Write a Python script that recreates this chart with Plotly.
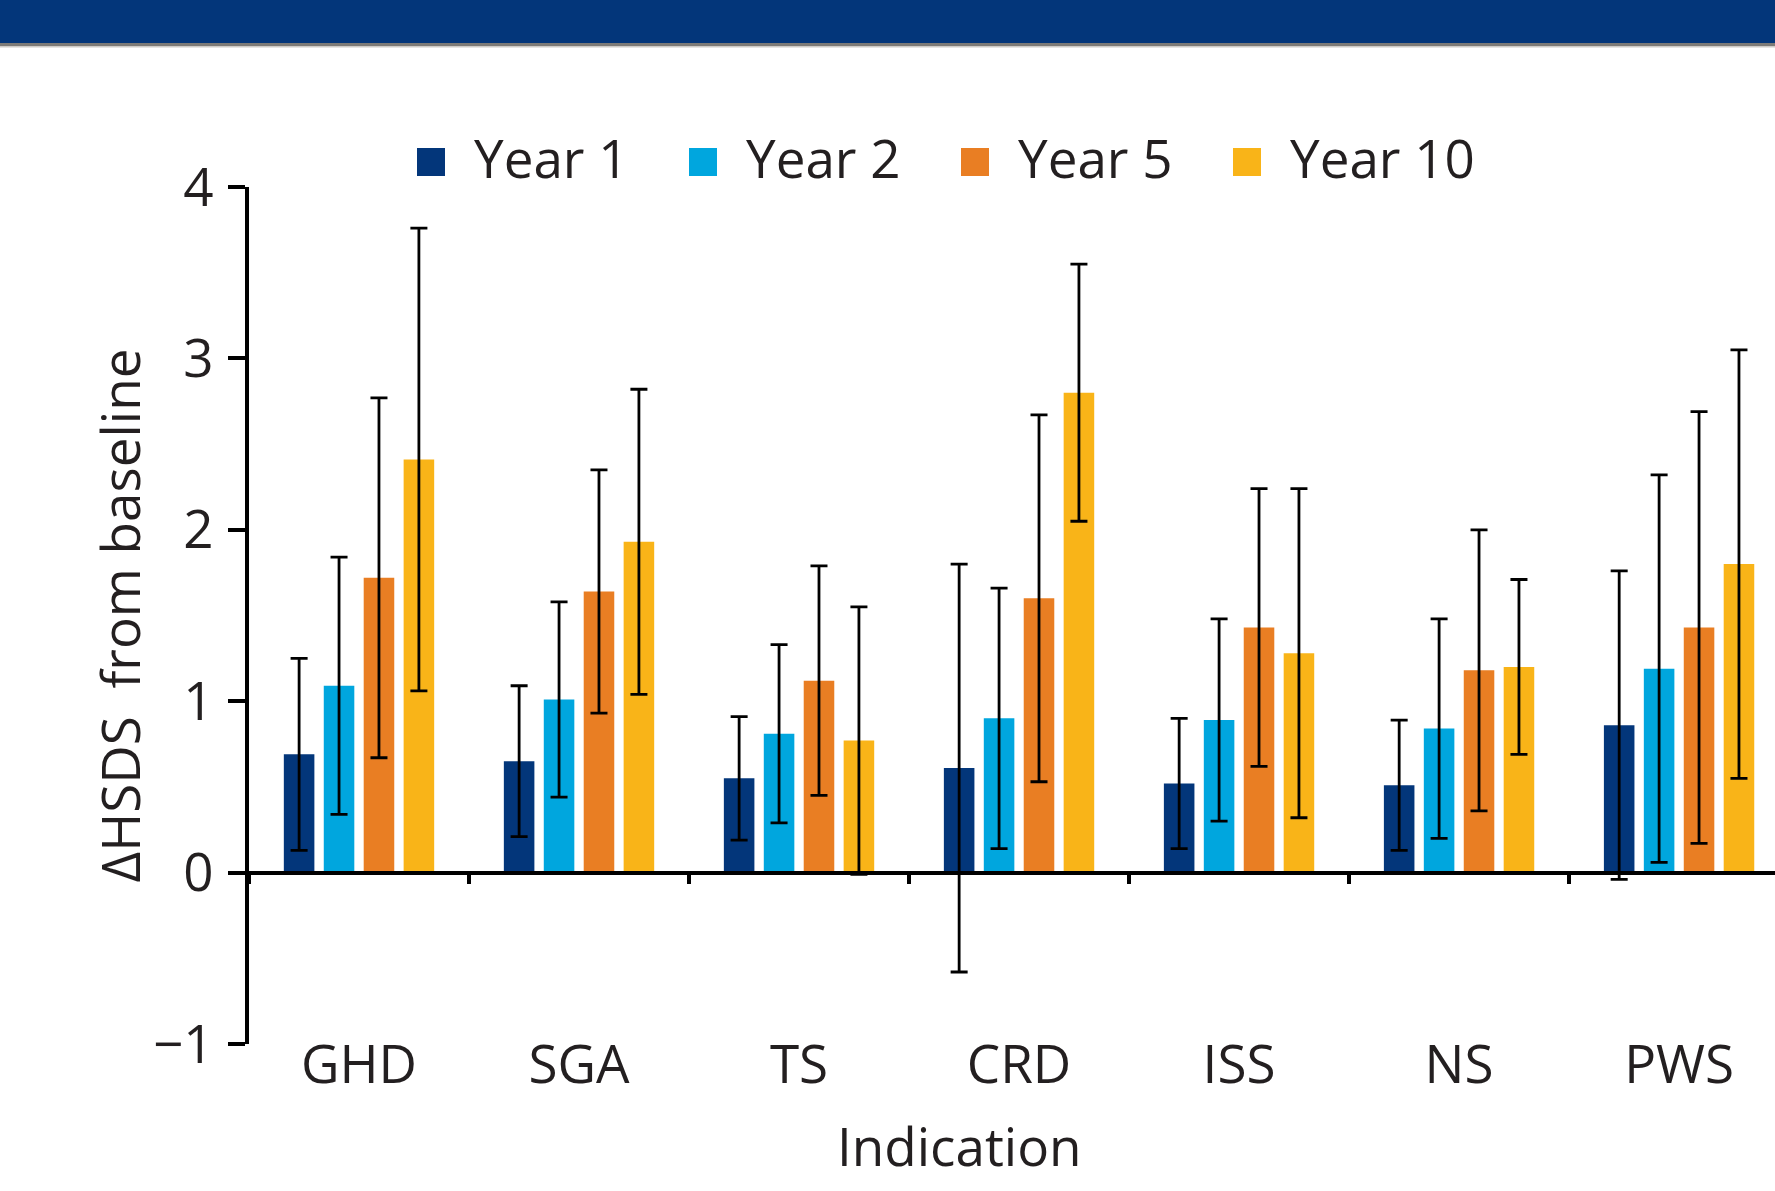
import plotly.graph_objects as go

categories = ["GHD", "SGA", "TS", "CRD", "ISS", "NS", "PWS"]
series_names = ["Year 1", "Year 2", "Year 5", "Year 10"]
colors = ["#03367A", "#00A6DE", "#E97E23", "#F9B418"]

year1 = [0.69, 0.65, 0.55, 0.61, 0.52, 0.51, 0.86]
year2 = [1.09, 1.01, 0.81, 0.90, 0.89, 0.84, 1.19]
year5 = [1.72, 1.64, 1.12, 1.60, 1.43, 1.18, 1.43]
year10 = [2.41, 1.93, 0.77, 2.80, 1.28, 1.20, 1.80]

err1 = [0.56, 0.44, 0.36, 1.19, 0.38, 0.38, 0.90]
err2 = [0.75, 0.57, 0.52, 0.76, 0.59, 0.64, 1.13]
err5 = [1.05, 0.71, 0.67, 1.07, 0.81, 0.82, 1.26]
err10 = [1.35, 0.89, 0.78, 0.75, 0.96, 0.51, 1.25]

y_ticks = [-1, 0, 1, 2, 3, 4]
y_title = "ΔHSDS\u00a0 from baseline"
x_title = "Indication"

values = [year1, year2, year5, year10]
errors = [err1, err2, err5, err10]

W, H = 1775, 1191
L, R, T, B = 249, 0, 187, 147
ymin, ymax = -1, 4
plot_h = H - T - B
plot_w = W - L - R
FONT = "Open Sans"
TXT = "#231F20"

def py(p):  # pixel y -> paper y
    return (H - B - p) / plot_h

def px(p):  # pixel x -> paper x
    return (p - L) / plot_w

fig = go.Figure()
for name, vals, errs, col in zip(series_names, values, errors, colors):
    fig.add_trace(go.Bar(
        x=categories, y=vals, name=name, marker_color=col,
        marker_line_width=0, showlegend=False,
        error_y=dict(type="data", array=errs, visible=True,
                     color="black", thickness=2.8, width=8.5),
    ))

# helper trace for the axis drawn at y=0
fig.add_trace(go.Scatter(x=categories, y=[None] * len(categories),
                         xaxis="x2", showlegend=False, hoverinfo="skip"))

zero_pos = (0 - ymin) / (ymax - ymin)

fig.update_layout(
    width=W, height=H, autosize=False,
    margin=dict(l=L, r=R, t=T, b=B, pad=0),
    paper_bgcolor="white", plot_bgcolor="white",
    barmode="group", bargap=0.274, bargroupgap=0.235,
    font=dict(family=FONT, color=TXT, size=53),
    xaxis=dict(
        type="category", range=[-0.5, 6.436],
        showline=False, showgrid=False, zeroline=False, ticks="",
        tickfont=dict(size=53, color=TXT), ticklabelstandoff=-15,
    ),
    xaxis2=dict(
        type="category", overlaying="x", matches="x", anchor="free",
        position=zero_pos, showline=True, linecolor="black", linewidth=4,
        ticks="outside", tickson="boundaries", ticklen=9, tickwidth=4,
        tickcolor="black", showticklabels=False, showgrid=False,
    ),
    yaxis=dict(
        range=[ymin, ymax], tickvals=y_ticks,
        showline=True, linecolor="black", linewidth=3.5,
        ticks="outside", ticklen=17, tickwidth=3.5, tickcolor="black",
        showgrid=False, zeroline=False,
        tickfont=dict(size=53, color=TXT), ticklabelstandoff=4,
    ),
)

# Legend built from series list
leg_x0 = 417
leg_pitch = 272
sq = 28
leg_y_top = 148
for i, (name, col) in enumerate(zip(series_names, colors)):
    x0 = leg_x0 + i * leg_pitch
    fig.add_shape(type="rect", xref="paper", yref="paper",
                  x0=px(x0), x1=px(x0 + sq), y0=py(leg_y_top + sq), y1=py(leg_y_top),
                  fillcolor=col, line_width=0)
    fig.add_annotation(text=name, xref="paper", yref="paper",
                       x=px(x0 + sq + 27), y=py(leg_y_top + sq / 2 - 4),
                       xanchor="left", yanchor="middle", showarrow=False,
                       font=dict(size=53, color=TXT, family=FONT))

# Axis titles
fig.add_annotation(text=y_title, xref="paper", yref="paper",
                   x=px(119), y=0.5, textangle=-90, showarrow=False,
                   xanchor="center", yanchor="middle",
                   font=dict(size=53, color=TXT, family=FONT))
fig.add_annotation(text=x_title, xref="paper", yref="paper",
                   x=px(959), y=py(1145), showarrow=False,
                   xanchor="center", yanchor="middle",
                   font=dict(size=53, color=TXT, family=FONT))

# Header banner
fig.add_shape(type="rect", xref="paper", yref="paper", x0=px(0), x1=px(W),
              y0=py(43), y1=py(-5), fillcolor="#03367A", line_width=0, layer="below")
fig.add_shape(type="rect", xref="paper", yref="paper", x0=px(0), x1=px(W),
              y0=py(46), y1=py(43), fillcolor="#7D7B78", line_width=0, layer="below")
fig.add_shape(type="rect", xref="paper", yref="paper", x0=px(0), x1=px(W),
              y0=py(47.5), y1=py(46), fillcolor="#CFCCC8", line_width=0, layer="below")

fig.write_html("out.html", config={"displayModeBar": False},
               post_script="document.body.style.margin='0';document.body.style.overflow='hidden';")
